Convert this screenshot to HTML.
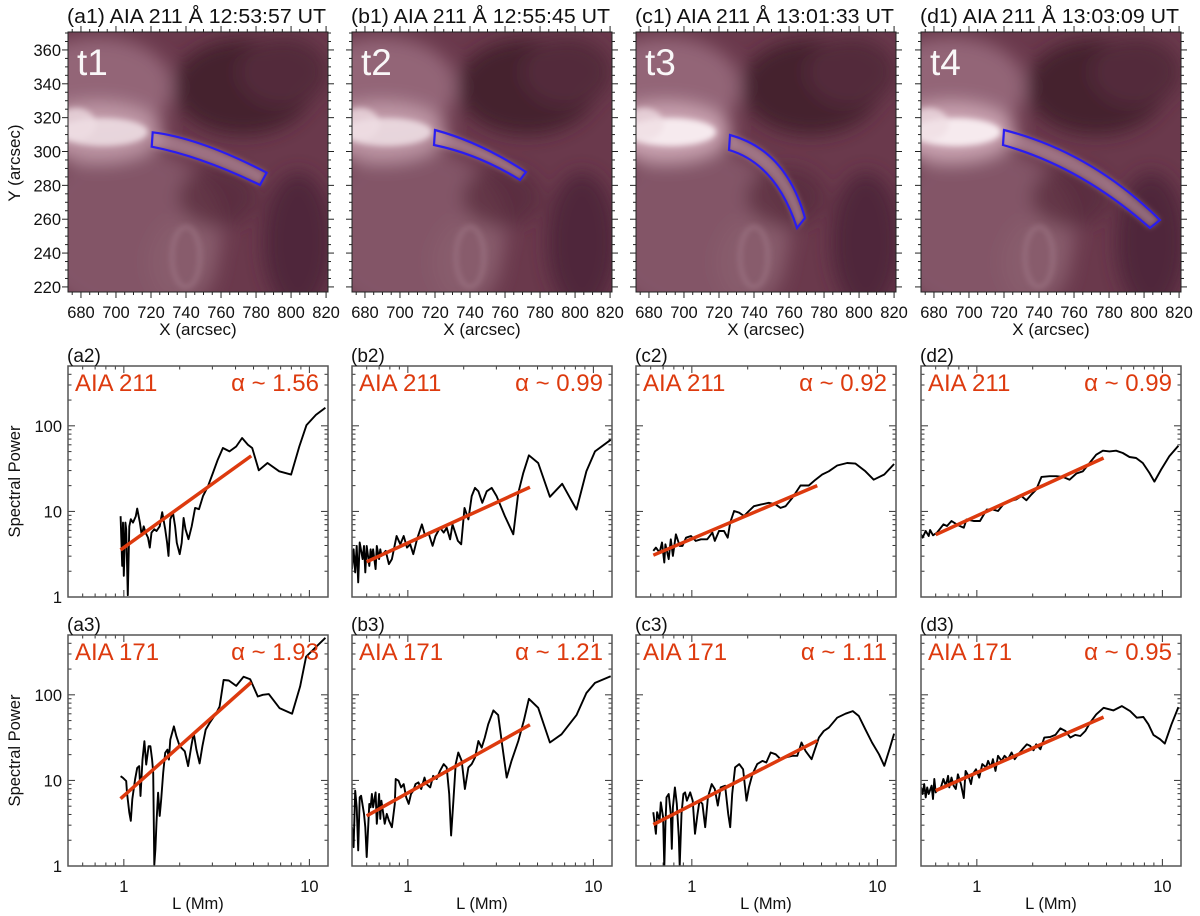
<!DOCTYPE html>
<html><head><meta charset="utf-8"><title>AIA 211/171 spectral power</title>
<style>
html,body{margin:0;padding:0;background:#fff;}
svg{display:block;font-family:"Liberation Sans",Arial,sans-serif;}
</style></head>
<body>
<svg id="fig" width="1200" height="916" viewBox="0 0 1200 916" xmlns="http://www.w3.org/2000/svg">
<defs>
<filter id="blur8" x="-50%" y="-50%" width="200%" height="200%"><feGaussianBlur stdDeviation="9"/></filter>
<filter id="blur3" x="-50%" y="-50%" width="200%" height="200%"><feGaussianBlur stdDeviation="3"/></filter>
</defs>
</svg>
<script>
// ---------- Spectral data (L in Mm, spectral power) ----------
const a2L=[0.96,0.98,0.99,1.0,1.02,1.03,1.05,1.07,1.09,1.12,1.16,1.18,1.22,1.25,1.28,1.31,1.35,1.38,1.41,1.46,1.5,1.56,1.61,1.67,1.71,1.74,1.78,1.84,1.89,1.93,2.0,2.05,2.10,2.15,2.23,2.32,2.42,2.54,2.67,2.84,3.02,3.21,3.42,3.71,4.03,4.34,4.66,4.92,5.34,5.95,6.88,7.97,8.82,9.65,10.84,12.2];
const a2P=[8.8,2.31,7.4,1.77,7.4,6.2,1.05,6.7,8.1,7.4,8.8,10.8,7.4,5.2,6.7,5.66,4.94,3.78,5.66,6.2,5.9,6.7,9.8,6.2,4.3,3.02,8.1,9.6,6.7,4.3,3.16,4.3,8.4,6.2,4.73,6.7,11.0,10.6,15.1,19.7,28.1,40.3,55,50.3,57.4,72,60.2,55,30.2,36.8,29.4,26.9,57.4,102,134,163];

const b2L=[0.50,0.51,0.52,0.53,0.54,0.55,0.57,0.58,0.59,0.60,0.62,0.63,0.64,0.65,0.67,0.68,0.70,0.71,0.72,0.76,0.79,0.82,0.87,0.91,0.95,0.99,1.03,1.07,1.12,1.19,1.24,1.29,1.36,1.41,1.49,1.56,1.62,1.69,1.74,1.80,1.86,1.94,2.02,2.12,2.21,2.30,2.40,2.52,2.66,2.83,3.01,3.33,3.70,3.94,4.19,4.49,5.04,5.83,6.79,8.11,9.17,10.2,12.4];
const b2P=[2.12,3.61,1.94,3.95,1.48,4.33,2.77,3.95,1.94,3.95,2.31,3.61,2.77,3.61,2.12,3.95,2.77,3.61,3.02,3.46,2.42,2.77,5.16,4.13,5.16,3.78,4.13,3.16,4.72,7.06,5.16,5.65,3.95,5.16,6.46,5.65,6.46,4.72,7.06,5.65,4.52,4.13,11.0,8.07,15.1,18.8,17.2,12.6,17.2,18.8,15.1,8.83,5.40,16.5,28.2,45.2,36.8,14.8,21,10.5,29.4,50.3,68.7];

const c2L=[0.62,0.64,0.67,0.69,0.71,0.72,0.75,0.77,0.79,0.82,0.86,0.89,0.93,0.99,1.05,1.12,1.21,1.29,1.33,1.40,1.49,1.56,1.61,1.69,1.80,1.91,2.03,2.16,2.35,2.60,2.83,3.01,3.20,3.48,3.85,4.27,4.64,5.04,5.47,6.07,6.87,7.62,8.62,9.55,10.9,12.3];
const c2P=[3.46,3.78,3.30,4.33,2.53,4.13,2.77,4.72,3.02,5.40,3.95,3.95,4.93,5.16,4.52,4.72,4.72,5.65,4.52,5.9,5.9,4.93,7.4,10.1,9.65,8.83,10.1,11.5,12.0,12.6,12.0,11.0,11.5,14.4,20.1,20.1,23.5,27,29.4,34.4,36.8,36.2,29.4,23.5,27,35.8];

const d2L=[0.50,0.51,0.53,0.55,0.56,0.58,0.61,0.63,0.66,0.69,0.73,0.78,0.81,0.85,0.88,0.96,1.04,1.13,1.22,1.30,1.39,1.50,1.63,1.74,1.85,1.97,2.09,2.23,2.47,2.68,2.91,3.16,3.44,3.73,4.05,4.40,4.78,5.19,5.63,6.12,6.65,7.22,7.84,8.51,9.06,9.84,10.9,12.2];
const d2P=[5.40,4.94,5.90,5.16,6.07,5.26,5.65,6.18,7.06,6.75,7.72,7.06,6.75,6.46,8.07,7.72,7.72,10.5,10.5,10.1,12.1,13.2,13.8,15.1,13.5,15.8,18.0,25.3,25.8,25.8,25.3,23.5,27.7,29.4,36.8,46,51.2,50.3,51.2,48.1,43.2,42.1,36.8,28.2,22.3,30.8,44,58.5];

const a3L=[0.96,0.99,1.03,1.04,1.07,1.09,1.11,1.15,1.18,1.21,1.23,1.26,1.29,1.32,1.36,1.39,1.42,1.44,1.46,1.48,1.50,1.53,1.56,1.59,1.63,1.67,1.72,1.75,1.78,1.86,1.92,2.00,2.13,2.22,2.31,2.38,2.46,2.56,2.65,2.76,2.90,3.15,3.28,3.45,3.68,4.03,4.42,4.80,5.27,5.61,6.04,6.90,8.07,8.91,9.60,10.9,12.2];
const a3P=[11.2,10.7,9.83,7.19,4.21,3.37,6.01,10.3,14.0,14.7,6.58,17.5,28.7,15.3,25.1,25.1,17.5,12.3,1.03,1.58,3.22,7.19,3.85,6.01,12.3,21,22.9,17.5,30,42.8,32.8,25.1,21.9,14.7,25.1,35.8,22.9,15.8,25.1,39.2,46.9,61.2,73.1,149,147,127,163,152,95.7,100,102,70,60.1,125,279,365,464];

const b3L=[0.50,0.51,0.52,0.53,0.54,0.55,0.56,0.58,0.59,0.60,0.62,0.63,0.64,0.65,0.67,0.68,0.70,0.71,0.72,0.75,0.77,0.79,0.82,0.85,0.86,0.89,0.92,0.95,0.98,1.01,1.04,1.07,1.10,1.14,1.18,1.23,1.26,1.32,1.37,1.43,1.49,1.56,1.62,1.67,1.71,1.76,1.81,1.87,1.95,2.03,2.12,2.21,2.30,2.40,2.50,2.60,2.71,2.89,3.07,3.23,3.41,3.62,3.94,4.22,4.49,5.04,5.83,6.73,8.11,9.17,10.2,12.4];
const b3P=[2.84,1.66,7.59,4.85,1.52,6.34,6.63,4.06,2.84,1.27,5.31,4.85,6.93,4.85,7.25,3.11,6.93,3.55,5.80,3.11,4.06,3.40,2.84,5.31,10.4,9.91,8.29,9.06,6.34,5.31,6.93,7.59,9.06,9.48,7.93,10.8,9.06,8.29,11.3,10.4,12.9,15.5,14.2,6.93,2.27,5.80,15.5,21.2,16.9,7.93,14.2,15.5,18.5,28.9,24.2,31.6,45.2,65.8,58,25.3,10.8,16.9,28.9,50.3,89.8,70.6,27.7,34.6,58,105,138,165];

const c3L=[0.62,0.64,0.65,0.67,0.68,0.70,0.71,0.72,0.73,0.75,0.77,0.78,0.79,0.81,0.83,0.85,0.86,0.88,0.90,0.92,0.94,0.98,1.01,1.04,1.07,1.10,1.14,1.18,1.22,1.28,1.33,1.38,1.43,1.51,1.57,1.61,1.65,1.71,1.80,1.89,1.97,2.03,2.12,2.25,2.40,2.52,2.66,2.83,3.01,3.20,3.48,3.70,3.90,4.10,4.42,4.84,5.14,5.47,6.07,6.73,7.37,7.94,8.62,9.36,10.2,10.9,11.7,12.3];
const c3P=[4.25,2.38,4.25,3.40,5.55,3.72,0.97,2.97,6.34,6.93,4.06,1.59,4.85,8.29,5.31,2.17,1.0,4.06,6.93,7.25,5.80,7.25,5.80,2.38,3.88,5.80,5.31,2.84,6.34,9.06,7.93,5.08,8.29,8.67,4.06,2.84,6.93,14.2,15.5,13.5,5.80,8.29,11.8,15.5,16.9,16.2,21.2,20.2,17.7,18.5,19.4,19.4,27.7,22.1,17.7,31.6,37.8,41.3,54,60.1,64.6,56.5,39.5,27.7,20.2,14.8,24.2,35.2];

const d3L=[0.50,0.51,0.52,0.53,0.54,0.55,0.57,0.58,0.59,0.60,0.62,0.64,0.66,0.68,0.70,0.71,0.73,0.75,0.77,0.79,0.82,0.85,0.87,0.90,0.93,0.95,0.99,1.03,1.07,1.12,1.15,1.19,1.22,1.26,1.30,1.36,1.41,1.47,1.54,1.60,1.67,1.76,1.86,1.94,2.02,2.09,2.20,2.31,2.49,2.65,2.82,3.0,3.19,3.39,3.61,3.84,4.08,4.40,4.82,5.45,6.04,6.70,7.28,7.90,8.41,8.95,9.71,10.3,11.2,12.2];
const d3P=[8.29,6.93,9.06,6.34,8.29,6.93,8.67,6.07,10.4,7.25,7.93,8.29,10.4,8.67,11.3,8.29,10.8,8.67,7.93,11.8,9.06,6.23,12.9,11.3,9.06,11.8,13.5,10.8,15.5,14.2,16.9,14.2,17.7,12.9,19.4,16.9,19.4,17.7,21.2,17.7,20.2,23.1,26.4,25.3,22.5,26.4,23.1,31.6,32.2,34,40.6,37.8,31.6,34,33,37.8,47.2,59,70.6,65.8,73.8,64.6,54,55,45.2,34,30.3,26.9,45.2,71.9];

// power-law fits: alpha, fit range start/end (Mm), power at start
const fitAlpha=[1.56,0.99,0.92,0.99,1.93,1.21,1.11,0.95];
const fitLStart=[0.96,0.60,0.62,0.60,0.96,0.60,0.62,0.60];
const fitLEnd=[4.86,4.55,4.74,4.82,4.86,4.55,4.74,4.82];
const fitPStart=[3.55,2.58,3.08,5.35,6.12,3.85,3.05,7.59];

const spectraL=[a2L,b2L,c2L,d2L,a3L,b3L,c3L,d3L];
const spectraP=[a2P,b2P,c2P,d2P,a3P,b3P,c3P,d3P];
const panelTags=["(a2)","(b2)","(c2)","(d2)","(a3)","(b3)","(c3)","(d3)"];
const channels=["AIA 211","AIA 211","AIA 211","AIA 211","AIA 171","AIA 171","AIA 171","AIA 171"];
const imgTitles=["(a1) AIA 211 \u00c5 12:53:57 UT","(b1) AIA 211 \u00c5 12:55:45 UT","(c1) AIA 211 \u00c5 13:01:33 UT","(d1) AIA 211 \u00c5 13:03:09 UT"];
const timeTags=["t1","t2","t3","t4"];
const xTickVals=[680,700,720,740,760,780,800,820];
const yTickVals=[220,240,260,280,300,320,340,360];
const pTickVals=[1,10,100];
const lTickVals=[1,10];

// ---------- helpers ----------
const NS="http://www.w3.org/2000/svg";
const svg=document.getElementById('fig');
function mk(tag,attrs,parent){const e=document.createElementNS(NS,tag);for(const k in attrs)e.setAttribute(k,attrs[k]);(parent||svg).appendChild(e);return e;}
function txt(s,attrs,parent){const e=mk('text',attrs,parent);e.textContent=s;return e;}

const colX=[68,352,636,921];
const W=260;
const XMIN=672.6,XMAX=821.1,YMIN=217,YMAX=370.6,IH=260,IT=32;
function ix(c,X){return colX[c]+(X-XMIN)/(XMAX-XMIN)*W;}
function iy(Y){return IT+IH-(Y-YMIN)/(YMAX-YMIN)*IH;}
const rowTop=[366,635],H=231,LMIN=0.5,LMAX=12.6,PMAX=500;
function sx(c,L){return colX[c]+(Math.log10(L)-Math.log10(LMIN))/(Math.log10(LMAX)-Math.log10(LMIN))*W;}
function sy(r,P){return rowTop[r]+H-Math.log10(P)/Math.log10(PMAX)*H;}

// ---------- image panels ----------
const blobSets=[{band:0.85,white:0.75},{band:0.85,white:0.75},{band:1,white:1},{band:1,white:1}];
const boxes=[
 "M84.7,100.3 Q132,106 198.7,140.7 L192,153 Q132,124 83.7,114.7 Z",
 "M83,98 Q128,110 174,140 L168,148 Q126,122 82,113 Z",
 "M94,103 Q150,118 169,186 L161,196 Q140,132 93,118 Z",
 "M83,98 Q170,120 239,188 L229,196 Q160,135 82,113 Z"
];
for(let c=0;c<4;c++){
  const g=mk('g',{transform:`translate(${colX[c]},${IT})`});
  
  
  const cp=mk('clipPath',{id:'clip'+c},svg.querySelector('defs'));
  mk('rect',{x:0,y:0,width:W,height:IH},cp);
  const ig=mk('g',{'clip-path':`url(#clip${c})`},g);
  mk('rect',{x:0,y:0,width:W,height:IH,fill:'#6a394c'},ig);
  const bl=mk('g',{filter:'url(#blur8)'},ig);
  mk('ellipse',{cx:60,cy:200,rx:95,ry:85,fill:'#8a5c6e',opacity:0.8},bl);
  mk('ellipse',{cx:30,cy:55,rx:75,ry:50,fill:'#9a6d7f',opacity:0.85},bl);
  mk('ellipse',{cx:175,cy:55,rx:70,ry:48,fill:'#45202f'},bl);
  mk('ellipse',{cx:230,cy:210,rx:35,ry:70,fill:'#50283a'},bl);
  mk('ellipse',{cx:215,cy:40,rx:45,ry:35,fill:'#52293a'},bl);
  mk('ellipse',{cx:150,cy:165,rx:40,ry:30,fill:'#56293b',opacity:0.7},bl);
  mk('ellipse',{cx:30,cy:100,rx:65,ry:30,fill:'#c9a2b0',opacity:blobSets[c].band},bl);
  mk('ellipse',{cx:115,cy:230,rx:35,ry:45,fill:'#8a6070',opacity:0.6},bl);
  const b2=mk('g',{filter:'url(#blur3)'},ig);
  mk('ellipse',{cx:35,cy:100,rx:45,ry:14,fill:'#f6eaee',opacity:blobSets[c].white},b2);
  mk('ellipse',{cx:8,cy:92,rx:20,ry:16,fill:'#efdde3',opacity:0.75},b2);
  mk('path',{d:boxes[c],fill:'#c7a0ae',opacity:0.55},b2);
  mk('ellipse',{cx:118,cy:225,rx:14,ry:30,fill:'none',stroke:'#a88090','stroke-width':3,opacity:0.7},b2);
  const bx=mk('path',{d:boxes[c],fill:'none',stroke:'#2a1cf0','stroke-width':2.2},g);
  
  
  const tt=txt(timeTags[c],{x:9,y:43,fill:'#ffffff','font-size':37,opacity:0.95},g);
  
  
  mk('rect',{x:0,y:0,width:W,height:IH,fill:'none',stroke:'#222','stroke-width':1},g);
  for(let X=675;X<=820;X+=5){const x=ix(c,X)-colX[c];const L=(X%20===0)?6:3;
    mk('line',{x1:x,y1:IH,x2:x,y2:IH+L,stroke:'#222','stroke-width':1},g);
    mk('line',{x1:x,y1:0,x2:x,y2:-L,stroke:'#222','stroke-width':1},g);}
  for(let Y=220;Y<=370;Y+=5){const y=iy(Y)-IT;const L=(Y%20===0)?6:3;
    mk('line',{x1:0,y1:y,x2:-L,y2:y,stroke:'#222','stroke-width':1},g);
    mk('line',{x1:W,y1:y,x2:W+L,y2:y,stroke:'#222','stroke-width':1},g);}
  xTickVals.forEach(X=>{const t=txt(String(X),{x:ix(c,X),y:318,'text-anchor':'middle','font-size':16.5,fill:'#111'});
    
    });
  const xt=txt('X (arcsec)',{x:colX[c]+W/2,y:335,'text-anchor':'middle','font-size':17,fill:'#111'});
  
  
  const ti=txt(imgTitles[c],{x:colX[c]-1,y:23,'font-size':20,fill:'#111',textLength:259,lengthAdjust:'spacingAndGlyphs'});
  
  
}
yTickVals.forEach(Y=>{const t=txt(String(Y),{x:61,y:iy(Y)+6,'text-anchor':'end','font-size':16.5,fill:'#111'});
  
  });
const yt=txt('Y (arcsec)',{x:0,y:0,transform:'translate(20,163) rotate(-90)','text-anchor':'middle','font-size':17,fill:'#111'});



// ---------- spectral panels ----------
for(let i=0;i<8;i++){
  const c=i%4,r=Math.floor(i/4);
  const left=colX[c],top=rowTop[r];
  const g=mk('g',{});
  
  
  const cp=mk('clipPath',{id:'sclip'+i},svg.querySelector('defs'));
  mk('rect',{x:left,y:top,width:W,height:H},cp);
  for(let d=-1;d<=1;d++)for(let m=1;m<=9;m++){const L=m*Math.pow(10,d);if(L<LMIN||L>LMAX)continue;
    const x=sx(c,L),len=(m===1)?7:3.5;
    mk('line',{x1:x,y1:top+H,x2:x,y2:top+H-len,stroke:'#333','stroke-width':1},g);
    mk('line',{x1:x,y1:top,x2:x,y2:top+len,stroke:'#333','stroke-width':1},g);}
  for(let d=0;d<=2;d++)for(let m=1;m<=9;m++){const P=m*Math.pow(10,d);if(P>PMAX)continue;
    const y=sy(r,P),len=(m===1)?7:3.5;
    mk('line',{x1:left,y1:y,x2:left+len,y2:y,stroke:'#333','stroke-width':1},g);
    mk('line',{x1:left+W,y1:y,x2:left+W-len,y2:y,stroke:'#333','stroke-width':1},g);}
  const Ls=spectraL[i],Ps=spectraP[i];
  let d='';for(let k=0;k<Ls.length;k++){d+=(k?'L':'M')+sx(c,Ls[k]).toFixed(1)+','+sy(r,Ps[k]).toFixed(1);}
  const cv=mk('path',{d:d,fill:'none',stroke:'#000','stroke-width':1.9,'stroke-linejoin':'round','clip-path':`url(#sclip${i})`},g);
  
  
  const pEnd=fitPStart[i]*Math.pow(fitLEnd[i]/fitLStart[i],fitAlpha[i]);
  const fl=mk('line',{x1:sx(c,fitLStart[i]),y1:sy(r,fitPStart[i]),x2:sx(c,fitLEnd[i]),y2:sy(r,pEnd),stroke:'#dd3a0e','stroke-width':3.5},g);
  
  
  mk('rect',{x:left,y:top,width:W,height:H,fill:'none',stroke:'#555','stroke-width':1.5},g);
  const ch=txt(channels[i],{x:left+7,y:top+25,'font-size':24,fill:'#dd3a0e'},g);
  
  
  const al=txt('\u03b1 ~ '+fitAlpha[i].toFixed(2),{x:left+W-9,y:top+25,'text-anchor':'end','font-size':24,fill:'#dd3a0e'},g);
  
  
  const tg=txt(panelTags[i],{x:left-1,y:top-4,'font-size':19,fill:'#111'},g);
  
  
  if(c===0){
    pTickVals.forEach(P=>{const t=txt(String(P),{x:left-6,y:sy(r,P)+6,'text-anchor':'end','font-size':16.5,fill:'#111'});
      
      });
    const st=txt('Spectral Power',{x:0,y:0,transform:`translate(20,${top+H/2}) rotate(-90)`,'text-anchor':'middle','font-size':16.5,fill:'#111'});
    
    
  }
  if(r===1){
    lTickVals.forEach(L=>{const t=txt(String(L),{x:sx(c,L),y:892,'text-anchor':'middle','font-size':16.5,fill:'#111'});
      
      });
    const lt=txt('L (Mm)',{x:left+W/2,y:909,'text-anchor':'middle','font-size':16.5,fill:'#111'});
    
    
  }
}
</script>
</body></html>
